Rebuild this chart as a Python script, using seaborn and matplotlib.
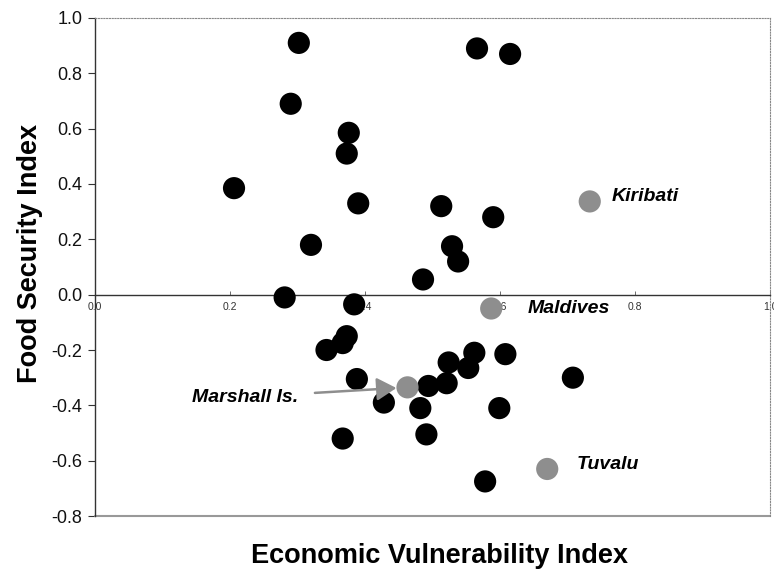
import pandas as pd
import matplotlib
matplotlib.use("Agg")
import matplotlib.pyplot as plt
from matplotlib.ticker import FormatStrFormatter
import seaborn as sns

# countries (black dots)
evi_other = [0.302, 0.290, 0.566, 0.615, 0.376, 0.373, 0.206, 0.390, 0.320, 0.513,
             0.590, 0.529, 0.538, 0.486, 0.281, 0.384, 0.373, 0.367, 0.343, 0.388,
             0.367, 0.428, 0.482, 0.494, 0.521, 0.524, 0.553, 0.562, 0.608, 0.708,
             0.599, 0.491, 0.578]
fsi_other = [0.91, 0.69, 0.89, 0.87, 0.585, 0.51, 0.385, 0.33, 0.18, 0.32,
             0.28, 0.175, 0.12, 0.055, -0.01, -0.035, -0.15, -0.175, -0.20, -0.305,
             -0.52, -0.39, -0.41, -0.33, -0.32, -0.245, -0.265, -0.21, -0.215, -0.30,
             -0.41, -0.505, -0.675]

# highlighted countries (grey dots)
hl_names = ["Kiribati", "Maldives", "Tuvalu", "Marshall Is."]
evi_hl = [0.733, 0.587, 0.670, 0.463]
fsi_hl = [0.337, -0.05, -0.63, -0.335]

df = pd.DataFrame({
    "evi": evi_other + evi_hl,
    "fsi": fsi_other + fsi_hl,
    "group": ["other"] * len(evi_other) + ["highlight"] * len(evi_hl),
})

sns.set_style("white")
plt.rcParams["font.family"] = ["Liberation Sans", "DejaVu Sans"]
plt.rcParams["axes.unicode_minus"] = False
plt.rcParams["text.color"] = "black"

fig = plt.figure(figsize=(7.74, 5.75), dpi=100)
ax = fig.add_axes([0.1227, 0.1026, 0.8721, 0.8661])

sns.scatterplot(data=df, x="evi", y="fsi", hue="group",
                palette={"other": "black", "highlight": "#8e8e8e"},
                s=255, linewidth=0, legend=False, ax=ax, zorder=3)

ax.set_xlim(0, 1.0)
ax.set_ylim(-0.8, 1.0)
ax.set_xticks([0.0, 0.2, 0.4, 0.6, 0.8, 1.0])
ax.set_yticks([-0.8, -0.6, -0.4, -0.2, 0.0, 0.2, 0.4, 0.6, 0.8, 1.0])
ax.xaxis.set_major_formatter(FormatStrFormatter("%.1f"))
ax.yaxis.set_major_formatter(FormatStrFormatter("%.1f"))
ax.set_xlabel("")
ax.set_ylabel("")

# x axis crosses at zero, box drawn round the rest
ax.spines["bottom"].set_position(("data", 0))
ax.spines["bottom"].set_color("#333333")
ax.spines["bottom"].set_linewidth(1.0)
ax.spines["left"].set_color("#333333")
ax.spines["left"].set_linewidth(1.0)
for side in ["top", "right"]:
    ax.spines[side].set_visible(True)
    ax.spines[side].set_linestyle((0, (1, 1.5)))
    ax.spines[side].set_color("#888888")
    ax.spines[side].set_linewidth(0.8)
ax.axhline(ax.get_ylim()[0], color="#999999", lw=1.5, clip_on=False)

ax.tick_params(axis="y", direction="out", length=5, width=0.8, color="#333333",
               labelsize=13, labelcolor="#111111", pad=4, left=True)
ax.tick_params(axis="x", direction="in", length=3, width=0.6, color="#555555",
               labelsize=7.5, labelcolor="#333333", pad=5, bottom=True)

# labels for the highlighted countries
lab = dict(fontsize=14, fontweight="bold", fontstyle="italic", va="center", color="black")
ax.annotate("Kiribati", (evi_hl[0], fsi_hl[0]), xytext=(16, 3.5),
            textcoords="offset points", ha="left", **lab)
ax.annotate("Maldives", (evi_hl[1], fsi_hl[1]), xytext=(26, 0),
            textcoords="offset points", ha="left", **lab)
ax.annotate("Tuvalu", (evi_hl[2], fsi_hl[2]), xytext=(21, 3.5),
            textcoords="offset points", ha="left", **lab)
ax.annotate("Marshall Is.", (evi_hl[3], fsi_hl[3]), xytext=(-79, -7),
            textcoords="offset points", ha="right",
            arrowprops=dict(arrowstyle="-|>,head_length=0.6,head_width=0.35",
                            color="#8e8e8e", lw=1.8, shrinkA=10, shrinkB=8,
                            mutation_scale=20),
            **lab)

fig.text(0.568, 0.033, "Economic Vulnerability Index", ha="center", va="center",
         fontsize=19.5, fontweight="bold", color="black")
fig.text(0.039, 0.56, "Food Security Index", ha="center", va="center",
         rotation=90, fontsize=19.5, fontweight="bold", color="black")

fig.savefig("out.png", dpi=100)
